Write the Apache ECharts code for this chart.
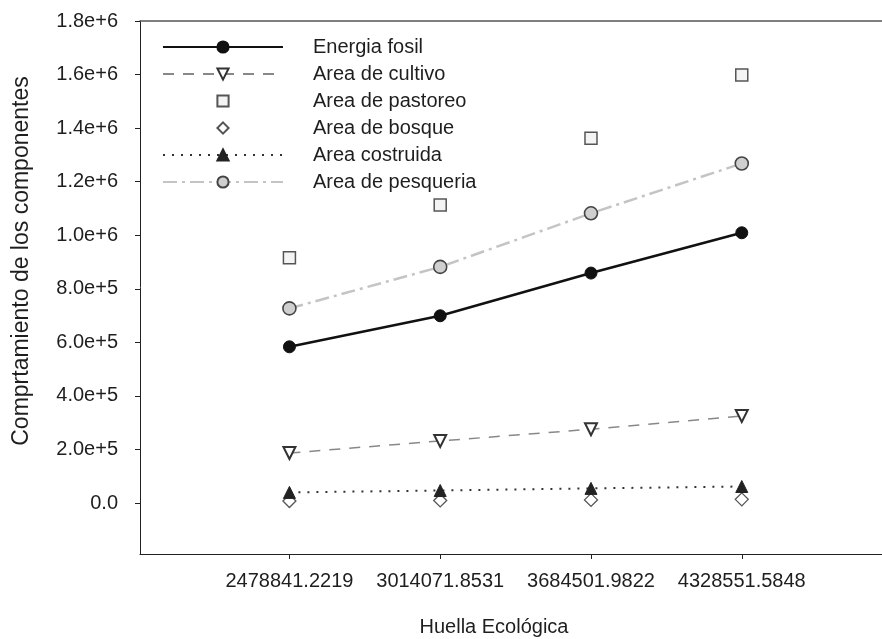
<!DOCTYPE html>
<html>
<head>
<meta charset="utf-8">
<script src="https://cdn.jsdelivr.net/npm/echarts@6/dist/echarts.min.js"></script>
<style>
html,body{margin:0;padding:0;background:#fff;}
#chart{width:882px;height:639px;}
</style>
</head>
<body>
<div id="chart"></div>
<script>
// Categories (x axis labels)
var categories = ['2478841.2219', '3014071.8531', '3684501.9822', '4328551.5848'];
// Series values
var energiaFosil   = [583600, 699400, 858900, 1009300];
var areaCultivo    = [187000, 232000, 276000, 325000];
var areaPastoreo   = [916000, 1113000, 1362000, 1598000];
var areaBosque     = [8000, 10000, 12000, 14000];
var areaCostruida  = [40000, 47000, 55000, 62000];
var areaPesqueria  = [727000, 882000, 1082000, 1268000];
// Y tick values and labels
var yTickValues = [0, 200000, 400000, 600000, 800000, 1000000, 1200000, 1400000, 1600000, 1800000];
var yTickLabels = ['0.0', '2.0e+5', '4.0e+5', '6.0e+5', '8.0e+5', '1.0e+6', '1.2e+6', '1.4e+6', '1.6e+6', '1.8e+6'];
// Axis titles
var xTitle = 'Huella Ecológica';
var yTitle = 'Comprtamiento de los componentes';

function pts(arr){ return arr.map(function(v,i){ return [i, v]; }); }

var FONT = '"Liberation Sans", Arial, sans-serif';
var TXT = '#1e1e1e';
var xMin = -0.991, xMax = 3.93;
var yMin = -190000, yMax = 1800000;

var chart = echarts.init(document.getElementById('chart'), null, {renderer:'canvas'});
var option = {
  animation: false,
  backgroundColor: '#ffffff',
  grid: {left: 140, top: 21, right: 0, bottom: 85, containLabel: false},
  graphic: [
    {type: 'text', x: 22, y: 261, rotation: Math.PI/2,
      style: {text: yTitle, fontFamily: FONT, fontSize: 23, fill: TXT, textAlign: 'center', textVerticalAlign: 'middle'}},
    {type: 'text', x: 494, y: 627,
      style: {text: xTitle, fontFamily: FONT, fontSize: 20, fill: TXT, textAlign: 'center', textVerticalAlign: 'middle'}}
  ],
  legend: {
    orient: 'vertical',
    left: 157, top: 32,
    itemWidth: 120, itemHeight: 14, itemGap: 7,
    textStyle: {fontFamily: FONT, fontSize: 20, color: TXT, padding: [0,0,0,25]},
    data: ['Energia fosil','Area de cultivo','Area de pastoreo','Area de bosque','Area costruida','Area de pesqueria']
  },
  xAxis: [{
    type: 'value', min: xMin, max: xMax, position: 'bottom',
    axisLine: {show: true, onZero: false, lineStyle: {color: '#222', width: 1}},
    axisTick: {show: true, inside: false, length: 5, customValues: [0,1,2,3], lineStyle: {color: '#222'}},
    axisLabel: {show: true, margin: 17, customValues: [0,1,2,3], fontFamily: FONT, fontSize: 20, color: TXT,
      formatter: function(v){ return categories[Math.round(v)] || ''; }},
    splitLine: {show: false}
  },{
    type: 'value', min: xMin, max: xMax, position: 'top',
    axisLine: {show: true, onZero: false, lineStyle: {color: '#555', width: 1.5}},
    axisTick: {show: false}, axisLabel: {show: false}, splitLine: {show: false}
  }],
  yAxis: {
    type: 'value', min: yMin, max: yMax,
    axisLine: {show: true, onZero: false, lineStyle: {color: '#222', width: 1}},
    axisTick: {show: true, inside: false, length: 5, customValues: yTickValues, lineStyle: {color: '#222'}},
    axisLabel: {show: true, margin: 22, customValues: yTickValues, fontFamily: FONT, fontSize: 20, color: TXT,
      formatter: function(v){ var i = yTickValues.indexOf(v); return i >= 0 ? yTickLabels[i] : ''; }},
    splitLine: {show: false}
  },
  series: [
    {name: 'Energia fosil', type: 'line', data: pts(energiaFosil), z: 5,
      symbol: 'circle', symbolSize: 12,
      lineStyle: {color: '#111', width: 2.5, type: 'solid'},
      itemStyle: {color: '#111', borderColor: '#111', borderWidth: 1}},
    {name: 'Area de cultivo', type: 'line', data: pts(areaCultivo), z: 4,
      symbol: 'triangle', symbolRotate: 180, symbolSize: 12,
      lineStyle: {color: '#888', width: 1.5, type: [11, 9]},
      itemStyle: {color: '#ffffff', borderColor: '#333', borderWidth: 2}},
    {name: 'Area de pastoreo', type: 'line', data: pts(areaPastoreo), z: 4,
      symbol: 'rect', symbolSize: 12,
      lineStyle: {color: '#666', width: 0, opacity: 0},
      itemStyle: {color: '#f4f4f4', borderColor: '#555', borderWidth: 1.5}},
    {name: 'Area de bosque', type: 'line', data: pts(areaBosque), z: 3,
      symbol: 'path://M0,-1L1,0L0,1L-1,0Z', symbolSize: 13,
      lineStyle: {color: '#666', width: 0, opacity: 0},
      itemStyle: {color: '#ffffff', borderColor: '#555', borderWidth: 1.3}},
    {name: 'Area costruida', type: 'line', data: pts(areaCostruida), z: 4,
      symbol: 'triangle', symbolSize: 12,
      lineStyle: {color: '#333', width: 2, type: [2, 7]},
      itemStyle: {color: '#222', borderColor: '#222', borderWidth: 1}},
    {name: 'Area de pesqueria', type: 'line', data: pts(areaPesqueria), z: 4,
      symbol: 'circle', symbolSize: 13,
      lineStyle: {color: '#c4c4c4', width: 2.5, type: [14, 5, 3, 5]},
      itemStyle: {color: '#cfcfcf', borderColor: '#444', borderWidth: 1.6}}
  ]
};
chart.setOption(option);
</script>
</body>
</html>
